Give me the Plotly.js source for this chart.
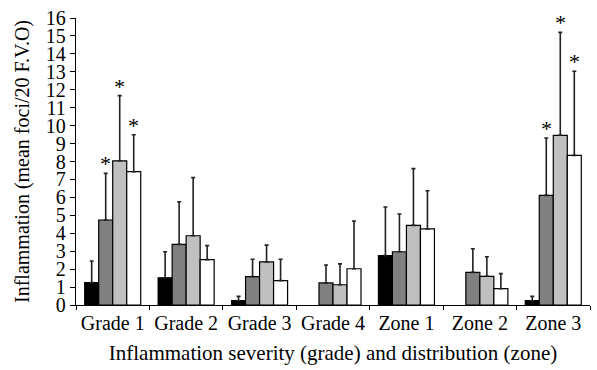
<!DOCTYPE html>
<html><head><meta charset="utf-8">
<script src="https://cdn.plot.ly/plotly-3.0.1.min.js"></script>
<style>html,body{margin:0;padding:0;background:#fff}#chart{width:597px;height:370px}</style>
</head><body><div id="chart"></div>
<script>
const categories = ["Grade 1","Grade 2","Grade 3","Grade 4","Zone 1","Zone 2","Zone 3"];
const series1 = [1.25, 1.52, 0.24, null, 2.75, null, 0.24];
const series1Err = [1.2, 1.45, 0.24, null, 2.71, null, 0.24];
const series2 = [4.74, 3.38, 1.58, 1.23, 2.97, 1.82, 6.11];
const series2Err = [2.6, 2.38, 0.97, 1.0, 2.1, 1.32, 3.2];
const series3 = [8.04, 3.86, 2.40, 1.13, 4.44, 1.60, 9.46];
const series3Err = [3.63, 3.24, 0.94, 1.16, 3.16, 1.09, 5.74];
const series4 = [7.43, 2.53, 1.36, 2.02, 4.24, 0.91, 8.34];
const series4Err = [2.06, 0.78, 1.19, 2.66, 2.13, 0.84, 4.69];
const significant2 = [true,false,false,false,false,false,true];
const significant3 = [true,false,false,false,false,false,true];
const significant4 = [true,false,false,false,false,false,true];

const colors = ["#000000","#808080","#c0c0c0","#ffffff"];
const vals = [series1, series2, series3, series4];
const errs = [series1Err, series2Err, series3Err, series4Err];
const sigs = [null, significant2, significant3, significant4];

const bargap = 0.237;
const marginL = 76, marginR = 7, W = 597;
const plotW = W - marginL - marginR;
const catW = plotW / categories.length;
const barW = catW * (1 - bargap) / 4;

const traces = vals.map((v, i) => ({
  type: 'bar', x: categories, y: v,
  marker: {color: colors[i], line: {color: '#000', width: 1.2}},
  error_y: {type: 'data', symmetric: false, array: errs[i], arrayminus: v.map(() => 0),
            color: '#222', thickness: 1.6, width: 2},
  showlegend: false, hoverinfo: 'skip'
}));

const annotations = [];
sigs.forEach((s, i) => {
  if (!s) return;
  s.forEach((flag, j) => {
    if (!flag) return;
    annotations.push({
      x: categories[j], y: vals[i][j] + errs[i][j], xref: 'x', yref: 'y',
      text: '*', showarrow: false, yanchor: 'bottom', yshift: -5,
      xshift: (i - 1.5) * barW,
      font: {family: 'Liberation Serif, serif', size: 22, color: '#000'}
    });
  });
});

const layout = {
  width: 597, height: 370,
  margin: {l: marginL, r: marginR, t: 18, b: 65},
  paper_bgcolor: '#fff', plot_bgcolor: '#fff',
  barmode: 'group', bargap: bargap, bargroupgap: 0,
  font: {family: 'Liberation Serif, serif', color: '#000', size: 20},
  xaxis: {
    showline: true, linecolor: '#000', linewidth: 1.2,
    ticks: 'outside', ticklen: 4, tickcolor: '#000', tickson: 'boundaries',
    showgrid: false, zeroline: false, tickangle: 0,
    tickfont: {size: 20},
    title: {text: 'Inflammation severity (grade) and distribution (zone)', font: {size: 21}, standoff: 12}
  },
  yaxis: {
    range: [0, 16], dtick: 1, showline: true, linecolor: '#000', linewidth: 1.2,
    ticks: 'outside', ticklen: 5, tickcolor: '#000',
    showgrid: false, zeroline: false,
    tickfont: {size: 20},
    title: {text: 'Inflammation (mean foci/20 F.V.O)', font: {size: 20}, standoff: 10}
  },
  annotations: annotations
};
Plotly.newPlot('chart', traces, layout, {displayModeBar: false, staticPlot: true});
</script></body></html>
